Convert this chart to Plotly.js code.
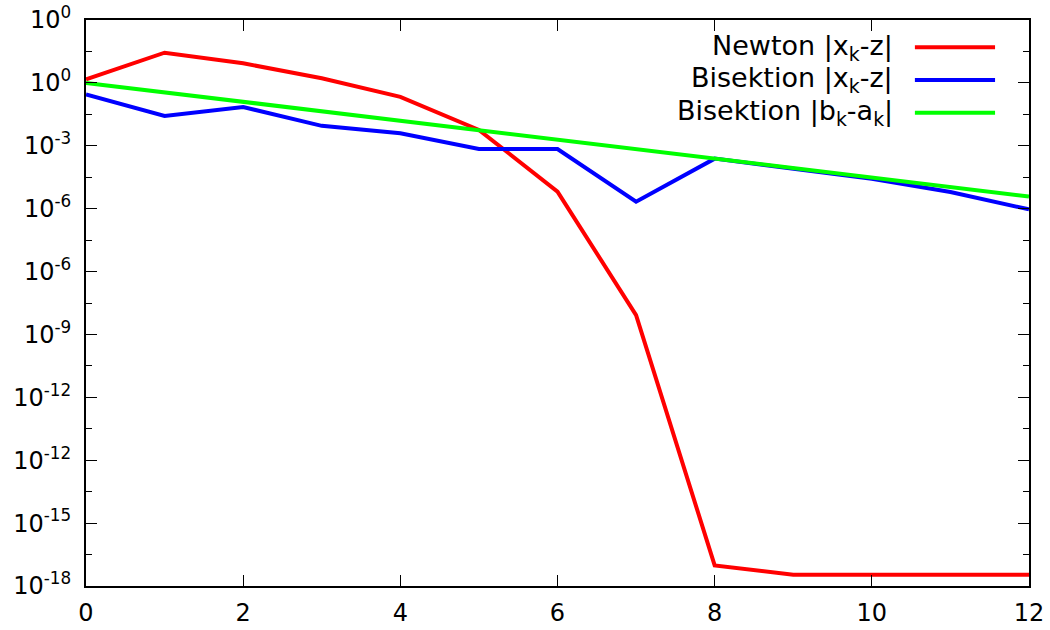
<!DOCTYPE html>
<html>
<head>
<meta charset="utf-8">
<script src="https://cdn.plot.ly/plotly-3.0.1.min.js"></script>
<style>html,body{margin:0;padding:0;background:#fff}#chart{width:1050px;height:630px}</style>
</head>
<body>
<div id="chart"></div>
<script>
// iteration index k
const k = [0,1,2,3,4,5,6,7,8,9,10,11,12];
// Newton |x_k - z|
const newtonErr = [1.3, 9.1, 4.2, 1.4, 0.36, 0.032, 3.5e-4, 4.1e-8, 4.5e-16, 2.3e-16, 2.3e-16, 2.3e-16, 2.3e-16];
// Bisektion |x_k - z|
const bisErr = [0.43, 0.089, 0.17, 0.043, 0.025, 0.0079, 0.0079, 1.66e-4, 0.0039, 0.0019, 8.9e-4, 3.4e-4, 9.5e-5];
// Bisektion |b_k - a_k|
const bisWidth = [1, 0.5, 0.25, 0.125, 0.0625, 0.03125, 0.015625, 0.0078125, 0.00390625, 0.001953125, 0.0009765625, 0.00048828125, 0.000244140625];

const seriesNames = ["Newton |x<sub>k</sub>-z|", "Bisektion |x<sub>k</sub>-z|", "Bisektion |b<sub>k</sub>-a<sub>k</sub>|"];
const seriesColors = ["#ff0000", "#0000ff", "#00ff00"];

const xTickVals = [0,2,4,6,8,10,12];
const yTickVals = [1e2,1e0,1e-2,1e-4,1e-6,1e-8,1e-10,1e-12,1e-14,1e-16];
const yTickText = ["10<sup>0</sup>","10<sup>0</sup>","10<sup>-3</sup>","10<sup>-6</sup>","10<sup>-6</sup>","10<sup>-9</sup>","10<sup>-12</sup>","10<sup>-12</sup>","10<sup>-15</sup>","10<sup>-18</sup>"];
const yMinorVals = [1e1,1e-1,1e-3,1e-5,1e-7,1e-9,1e-11,1e-13,1e-15];

const ys = [newtonErr, bisErr, bisWidth];
const traces = ys.map((y, i) => ({
  x: k, y: y, type: 'scatter', mode: 'lines', name: seriesNames[i],
  line: {color: seriesColors[i], width: 4}, showlegend: false
}));
const FONT = {family: 'DejaVu Sans, sans-serif', size: 24, color: '#000'};

const legY = [0.952, 0.894, 0.836];
const annotations = seriesNames.map((n, i) => ({
  xref: 'paper', yref: 'paper', x: 0.858, y: legY[i], text: n,
  xanchor: 'right', yanchor: 'middle', showarrow: false, font: {family: FONT.family, size: 27, color: '#000'}
}));
const shapes = seriesColors.map((c, i) => ({
  type: 'line', xref: 'paper', yref: 'paper', x0: 0.879, x1: 0.964, y0: legY[i], y1: legY[i],
  line: {color: c, width: 4}
}));

const layout = {
  width: 1050, height: 630,
  margin: {l: 86, r: 21, t: 20, b: 44},
  paper_bgcolor: '#fff', plot_bgcolor: '#fff',
  font: FONT,
  showlegend: false,
  xaxis: {
    range: [0, 12], tickmode: 'array', tickvals: xTickVals,
    ticks: 'inside', ticklen: 11, tickwidth: 1, tickcolor: '#000',
    showline: true, linecolor: '#000', linewidth: 2, mirror: 'ticks',
    showgrid: false, zeroline: false, tickfont: FONT, ticklabelstandoff: 4
  },
  yaxis: {
    type: 'log', range: [-16, 2], tickmode: 'array', tickvals: yTickVals, ticktext: yTickText,
    ticks: 'inside', ticklen: 11, tickwidth: 1, tickcolor: '#000',
    showline: true, linecolor: '#000', linewidth: 2, mirror: 'ticks',
    showgrid: false, zeroline: false, tickfont: FONT, ticklabelstandoff: 8,
    minor: {tickmode: 'array', tickvals: yMinorVals, ticks: 'inside', ticklen: 6, tickwidth: 1, tickcolor: '#000', showgrid: false}
  },
  annotations: annotations,
  shapes: shapes
};

Plotly.newPlot('chart', traces, layout, {displayModeBar: false, staticPlot: true});
</script>
</body>
</html>
